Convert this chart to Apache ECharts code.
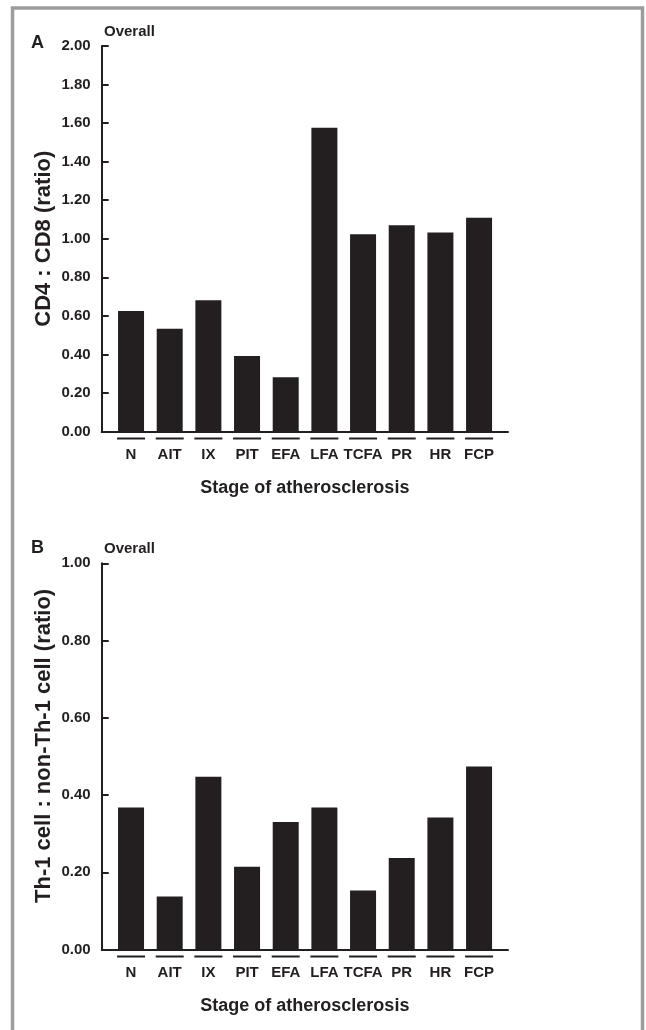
<!DOCTYPE html>
<html>
<head>
<meta charset="utf-8">
<script src="https://cdn.jsdelivr.net/npm/echarts@6/dist/echarts.min.js"></script>
<style>
html,body{margin:0;padding:0;background:#fff;}
#chart{width:646px;height:1030px;}
</style>
</head>
<body>
<div id="chart"></div>
<script>
var categories = ['N', 'AIT', 'IX', 'PIT', 'EFA', 'LFA', 'TCFA', 'PR', 'HR', 'FCP'];
var cd4cd8Ratio = [0.625, 0.533, 0.681, 0.392, 0.281, 1.576, 1.023, 1.070, 1.033, 1.109];
var th1Ratio = [0.368, 0.137, 0.447, 0.214, 0.330, 0.368, 0.153, 0.237, 0.342, 0.474];
var topTicks = { min: 0, max: 2, interval: 0.2 };
var bottomTicks = { min: 0, max: 1, interval: 0.2 };

var INK = '#231f20';
var SANS = "'Liberation Sans', Arial, sans-serif";

var panels = [
  { top: 46, height: 385.5, ticks: topTicks, data: cd4cd8Ratio, yName: 'CD4 : CD8 (ratio)', namePad: [0, 0, 0, 0] },
  { top: 563.3, height: 386.2, ticks: bottomTicks, data: th1Ratio, yName: 'Th-1 cell : non-Th-1 cell (ratio)', namePad: [0, 0, 0, 21] }
];

var grids = [], xAxes = [], yAxes = [], series = [];
panels.forEach(function (p, i) {
  var fi = i * 2, bi = i * 2 + 1;
  grids.push({ left: 101.7, width: 406.3, top: p.top, height: p.height });
  grids.push({ left: 111.7, width: 386.7, top: p.top, height: p.height });
  xAxes.push({
    gridIndex: fi, type: 'value', min: 0, max: 1,
    axisLine: { show: true, onZero: false, lineStyle: { color: INK, width: 2 } },
    axisTick: { show: false }, axisLabel: { show: false }, splitLine: { show: false },
    name: 'Stage of atherosclerosis', nameLocation: 'middle', nameGap: 48,
    nameTextStyle: { fontFamily: SANS, fontWeight: 'bold', fontSize: 18, color: INK }
  });
  xAxes.push({
    gridIndex: bi, type: 'category', data: categories,
    axisLine: { show: false }, axisTick: { show: false }, splitLine: { show: false },
    axisLabel: {
      margin: 6, interval: 0,
      formatter: function (v) { return '{line| }\n{name|' + v + '}'; },
      rich: {
        line: { width: 28, height: 2, lineHeight: 2, backgroundColor: INK, fontSize: 2 },
        name: { fontFamily: SANS, fontWeight: 'bold', fontSize: 15, color: INK, lineHeight: 31 }
      }
    }
  });
  yAxes.push({
    gridIndex: fi, type: 'value', min: p.ticks.min, max: p.ticks.max, interval: p.ticks.interval,
    axisLine: { show: true, lineStyle: { color: INK, width: 2 } },
    axisTick: { show: true, inside: true, length: 7, lineStyle: { color: INK, width: 2 } },
    splitLine: { show: false },
    axisLabel: {
      margin: 11, color: INK, fontFamily: SANS, fontWeight: 'bold', fontSize: 15,
      formatter: function (v) { return v.toFixed(2); }
    },
    name: p.yName, nameLocation: 'middle', nameGap: 47, nameRotate: 90, nameMoveOverlap: false,
    nameTextStyle: { fontFamily: SANS, fontWeight: 'bold', fontSize: 22, color: INK, padding: p.namePad }
  });
  yAxes.push({
    gridIndex: bi, type: 'value', min: p.ticks.min, max: p.ticks.max, show: false
  });
  series.push({
    type: 'bar', xAxisIndex: bi, yAxisIndex: bi, data: p.data, barWidth: 26,
    itemStyle: { color: INK }, silent: true
  });
});

var chart = echarts.init(document.getElementById('chart'), null, { renderer: 'canvas' });
chart.setOption({
  animation: false,
  backgroundColor: '#fff',
  grid: grids, xAxis: xAxes, yAxis: yAxes, series: series,
  graphic: [
    { type: 'polyline', shape: { points: [[12.5, 1032], [12.5, 8], [642.5, 8], [642.5, 1032]] },
      style: { stroke: '#9d9d9d', lineWidth: 3.5, fill: null }, silent: true },
    { type: 'text', left: 31, top: 34, style: { text: 'A', font: 'bold 18px ' + SANS, fill: INK } },
    { type: 'text', left: 104, top: 24, style: { text: 'Overall', font: 'bold 15px ' + SANS, fill: INK } },
    { type: 'text', left: 31, top: 539, style: { text: 'B', font: 'bold 18px ' + SANS, fill: INK } },
    { type: 'text', left: 104, top: 541, style: { text: 'Overall', font: 'bold 15px ' + SANS, fill: INK } }
  ]
});
</script>
</body>
</html>
